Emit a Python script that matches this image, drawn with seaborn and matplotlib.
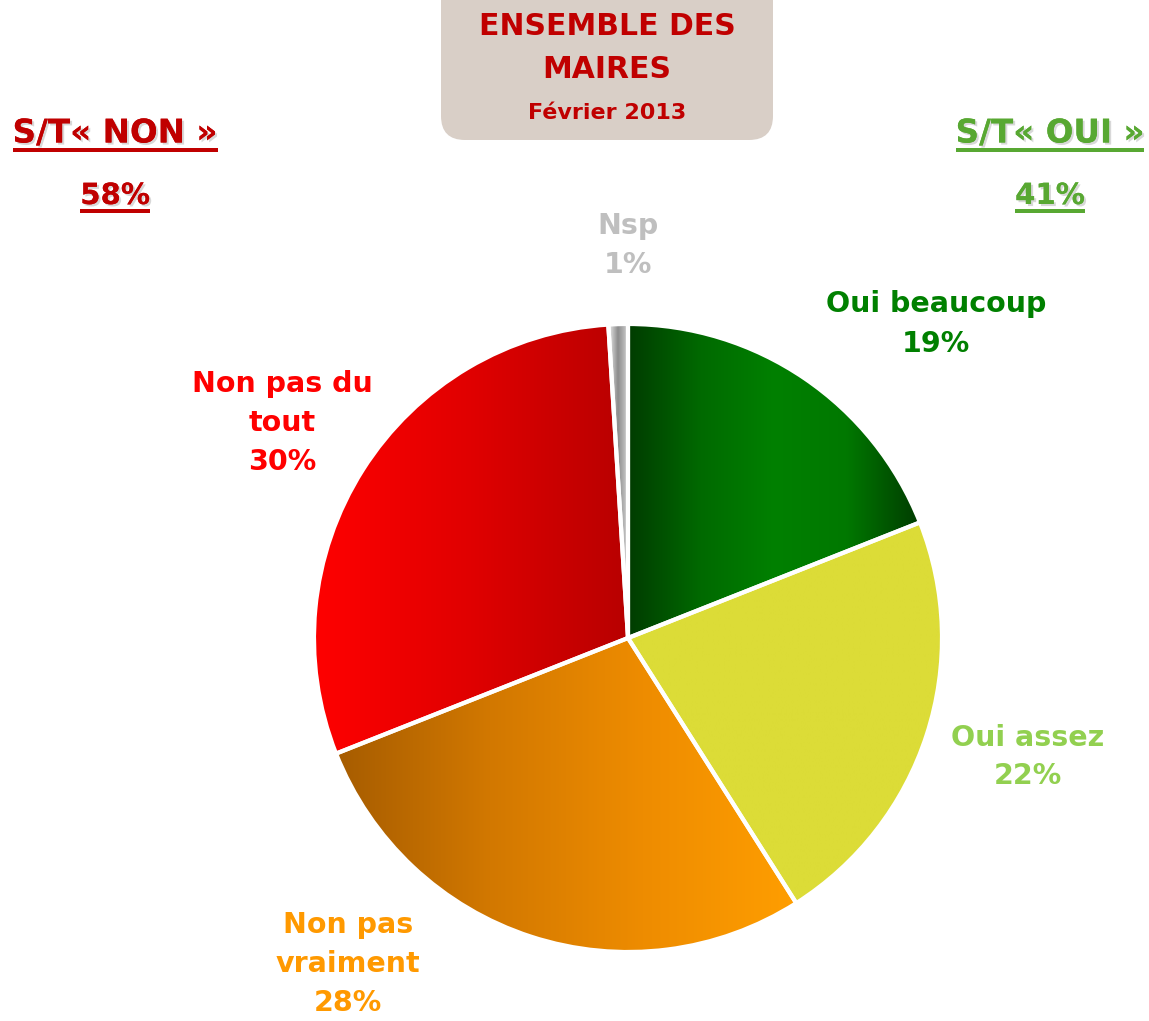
import numpy as np
import matplotlib
matplotlib.use("Agg")
import matplotlib.pyplot as plt
import seaborn as sns
from matplotlib.colors import LinearSegmentedColormap
from matplotlib.patches import FancyBboxPatch
import matplotlib.patheffects as pe

# ---- data ----
categories = ["Oui beaucoup", "Oui assez", "Non pas vraiment", "Non pas du tout", "Nsp"]
values = [19, 22, 28, 30, 1]
label_texts = ["Oui beaucoup\n19%", "Oui assez\n22%", "Non pas\nvraiment\n28%",
               "Non pas du\ntout\n30%", "Nsp\n1%"]
label_colors = ["#008000", "#92D050", "#FF9900", "#FF0000", "#BFBFBF"]
gradients = [["#003C00", "#006A00", "#008000", "#007800", "#003C00"],
             ["#DCDC37", "#DCDC37"],
             ["#A65C00", "#D27800", "#EE8C00", "#FF9E00"],
             ["#FF0000", "#E00000", "#B80000"],
             ["#F4F4F4", "#8C8C8C", "#D0D0D0"]]
title_lines = "ENSEMBLE DES\nMAIRES"
subtitle = "Février 2013"
summary_labels = ["S/T« NON »", "S/T« OUI »"]
summary_values = ["58%", "41%"]
summary_colors = ["#C00000", "#58A832"]

W, H = 1149, 1021
sns.set_theme(style="white")
plt.rcParams['font.family'] = ['DejaVu Sans']

fig = plt.figure(figsize=(W / 100, H / 100), dpi=100)
ax = fig.add_axes([0, 0, 1, 1])

def py(y):
    return H - y

cx, cy, R = 628, py(638), 314
wedges, _ = ax.pie(values, startangle=90, counterclock=False, center=(cx, cy), radius=R,
                   wedgeprops=dict(edgecolor="white", linewidth=3, facecolor="none"))
ax.set_xlim(0, W)
ax.set_ylim(0, H)
ax.set_aspect("equal")
ax.axis("off")

grad = np.linspace(0, 1, 256).reshape(1, -1)
for w, cols in zip(wedges, gradients):
    ext = w.get_path().get_extents()
    cmap = LinearSegmentedColormap.from_list("g", cols)
    im = ax.imshow(grad, cmap=cmap, extent=[ext.x0, ext.x1, ext.y0, ext.y1],
                   aspect="auto", interpolation="bilinear", zorder=1)
    im.set_clip_path(w)
    w.set_zorder(3)
ax.set_xlim(0, W)
ax.set_ylim(0, H)

# labels
label_pos = [(936, 324), (1028, 757), (348, 964), (282, 423), (628, 246)]
for txt, col, (x, y) in zip(label_texts, label_colors, label_pos):
    ax.text(x, py(y), txt, color=col, fontsize=20.5, fontweight="bold",
            ha="center", va="center", linespacing=1.5, zorder=5)

# title box
box = FancyBboxPatch((441, py(140)), 332, 170, boxstyle="round,pad=0,rounding_size=24",
                     fc="#D9CFC7", ec="none", zorder=4)
ax.add_patch(box)
ax.text(607, py(48), title_lines, color="#C00000", fontsize=21.5, fontweight="bold",
        ha="center", va="center", linespacing=1.6, zorder=5)
ax.text(607, py(113), subtitle, color="#C00000", fontsize=16, fontweight="bold",
        ha="center", va="center", zorder=5)

# summaries
shadow = [pe.withSimplePatchShadow(offset=(1.5, -1.5), shadow_rgbFace="#aaaaaa", alpha=0.45),
          pe.Normal()]
sum_x = [115, 1050]
texts = []
for lab, val, col, x in zip(summary_labels, summary_values, summary_colors, sum_x):
    t1 = ax.text(x, py(133), lab, color=col, fontsize=23.5, fontweight="bold",
                 ha="center", va="center", path_effects=shadow, zorder=5)
    t2 = ax.text(x, py(196), val, color=col, fontsize=21, fontweight="bold",
                 ha="center", va="center", path_effects=shadow, zorder=5)
    texts.append((t1, col))
    texts.append((t2, col))

fig.canvas.draw()
r = fig.canvas.get_renderer()
for t, col in texts:
    bb = t.get_window_extent(renderer=r)
    yl = bb.y0 - 1
    ax.plot([bb.x0, bb.x1], [yl, yl], color=col, lw=2.8, solid_capstyle="butt",
            path_effects=shadow, zorder=5)

fig.savefig("out.png", dpi=100)
